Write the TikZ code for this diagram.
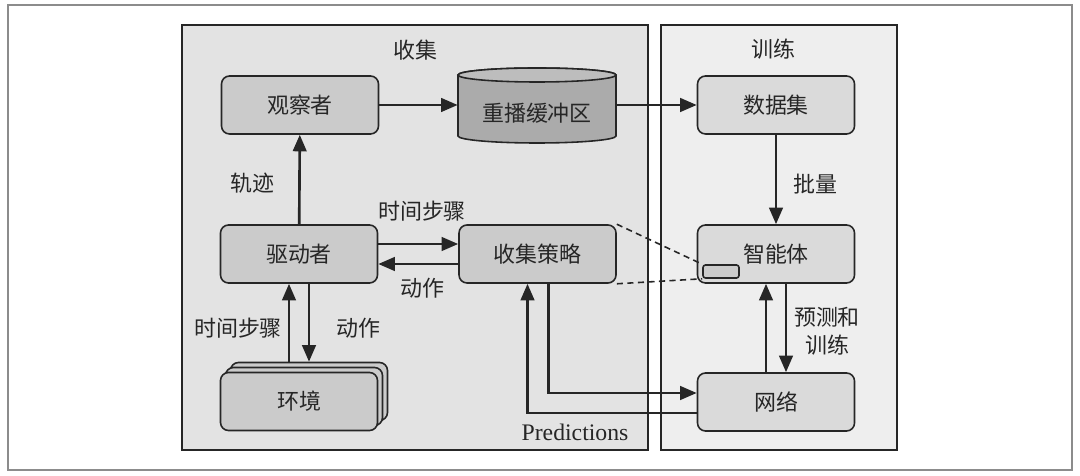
\documentclass[tikz,border=0pt]{standalone}
\usepackage{fontspec}
\setmainfont{Liberation Serif}
\newfontfamily\cjk{Noto Sans CJK SC}
\usepackage{tikz}
\usetikzlibrary{arrows.meta,shadows}
\definecolor{collectbg}{HTML}{E3E3E3}
\definecolor{trainbg}{HTML}{EEEEEE}
\definecolor{boxgray}{HTML}{CBCBCB}
\definecolor{traingray}{HTML}{DADADA}
\definecolor{bufgray}{HTML}{ABABAB}
\definecolor{buftop}{HTML}{BDBDBD}
\definecolor{ink}{HTML}{262626}
\newcommand\lblsize{\fontsize{12.5pt}{16pt}\selectfont}

\begin{document}
\begin{tikzpicture}[
    lbl/.style={font=\cjk\lblsize, text=ink, inner sep=1pt},
    box/.style={lbl, draw=ink, line width=0.9pt, rounded corners=0.16cm, fill=boxgray, minimum width=3.14cm, minimum height=1.16cm},
    trainbox/.style={box, fill=traingray},
    flow/.style={draw=ink, line width=1.5pt, -{Triangle[length=3.3mm,width=2.7mm]}},
    panel/.style={draw=ink, line width=0.9pt}]
      \useasboundingbox (0,0) rectangle (21.6,9.5);
      \draw[black!45, line width=1pt, fill=white] (0.16,0.1) rectangle (21.44,9.4);
      \draw[panel, fill=collectbg] (3.64,0.5) rectangle (12.96,9.0);
      \draw[panel, fill=trainbg] (13.22,0.5) rectangle (17.94,9.0);
      \node[lbl] (collecttitle) at (8.3,8.5) {收集};
      \node[lbl] (traintitle) at (15.46,8.52) {训练};
      \draw[ink, line width=0.9pt, fill=bufgray] (9.16,8.0) -- (9.16,6.78) arc[start angle=180, end angle=360, x radius=1.58, y radius=0.14] -- (12.32,8.0) arc[start angle=0, end angle=180, x radius=1.58, y radius=0.14] -- cycle;
      \draw[ink, line width=0.9pt, fill=buftop] (10.74,8.0) ellipse[x radius=1.58, y radius=0.14];
      \node[box] (observer) at (6.0,7.4) {观察者};
      \node[lbl, minimum width=3.16cm, minimum height=1.1cm] (buffer) at (10.74,7.24) {重播缓冲区};
      \node[trainbox] (dataset) at (15.52,7.4) {数据集};
      \node[box] (driver) at (5.98,4.42) {驱动者};
      \node[box] (policy) at (10.75,4.42) {收集策略};
      \node[trainbox] (agent) at (15.52,4.42) {智能体};
      \node[draw=ink, line width=0.9pt, fill=boxgray, rounded corners=0.05cm, minimum width=0.72cm, minimum height=0.26cm, anchor=south west] (slot) at ([shift={(0.11,0.1)}]agent.south west) {};
      \node[trainbox] (network) at (15.52,1.46) {网络};
      \node[box, double copy shadow={shadow xshift=0.1cm, shadow yshift=0.1cm}] (env) at (5.98,1.47) {环境};
      \draw[flow] (observer) -- (observer -| buffer.west);
      \draw[flow] (dataset -| buffer.east) -- (dataset);
      \draw[flow] (driver) -- (observer);
      \draw[flow] ([yshift=0.2cm]driver.east) -- ([yshift=0.2cm]policy.west);
      \draw[flow] ([yshift=-0.2cm]policy.west) -- ([yshift=-0.2cm]driver.east);
      \draw[flow] ([shift={(-0.2,0.2)}]env.north) -- ([xshift=-0.2cm]driver.south);
      \draw[flow] ([xshift=0.2cm]driver.south) -- ([shift={(0.2,0.2)}]env.north);
      \draw[flow] (dataset) -- (agent);
      \draw[flow] ([xshift=-0.2cm]network.north) -- ([xshift=-0.2cm]agent.south);
      \draw[flow] ([xshift=0.2cm]agent.south) -- ([xshift=0.2cm]network.north);
      \draw[flow] ([xshift=0.22cm]policy.south) |- ([yshift=0.18cm]network.west);
      \draw[flow] ([yshift=-0.22cm]network.west) -| ([xshift=-0.2cm]policy.south);
      \draw[ink, line width=0.9pt, dash pattern=on 3.5pt off 2.5pt] (policy.north east) -- (slot.north west);
      \draw[ink, line width=0.9pt, dash pattern=on 3.5pt off 2.5pt] (policy.south east) -- (slot.south west);
      \node[lbl] (trajlbl) at (5.04,5.84) {轨迹};
      \node[lbl] (steplbl) at (8.44,5.28) {时间步骤};
      \node[lbl] (actlbl) at (8.44,3.74) {动作};
      \node[lbl] (envsteplbl) at (4.76,2.94) {时间步骤};
      \node[lbl] (envactlbl) at (7.16,2.94) {动作};
      \node[lbl] (batchlbl) at (16.3,5.82) {批量};
      \node[lbl, align=center] (predlbl) at (16.54,2.88) {预测和\\训练};
      \node[font=\fontsize{13.5pt}{16pt}\selectfont, text=ink, inner sep=1pt] (predictions) at (11.5,0.86) {Predictions};
\end{tikzpicture}
\end{document}
